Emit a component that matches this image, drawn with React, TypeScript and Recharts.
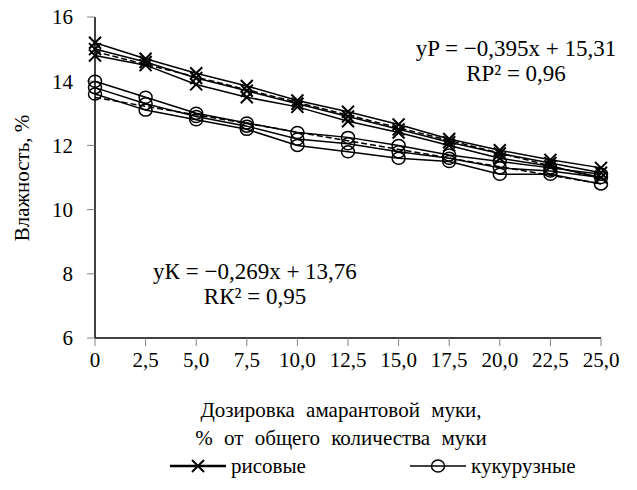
import { Legend, Line, LineChart, XAxis, YAxis } from "recharts";

const categories = ["0", "2,5", "5,0", "7,5", "10,0", "12,5", "15,0", "17,5", "20,0", "22,5", "25,0"];

// рисовые — три повторности
const rice1 = [15.2, 14.7, 14.25, 13.85, 13.4, 13.05, 12.65, 12.2, 11.85, 11.55, 11.3];
const rice2 = [15.0, 14.6, 14.1, 13.7, 13.3, 12.9, 12.5, 12.1, 11.75, 11.45, 11.15];
const rice3 = [14.8, 14.5, 13.9, 13.5, 13.2, 12.75, 12.4, 12.0, 11.6, 11.35, 11.0];

// кукурузные — три повторности
const corn1 = [14.0, 13.5, 13.0, 12.7, 12.4, 12.25, 12.0, 11.7, 11.5, 11.3, 11.1];
const corn2 = [13.8, 13.3, 12.9, 12.6, 12.2, 12.05, 11.8, 11.6, 11.3, 11.2, 11.0];
const corn3 = [13.6, 13.1, 12.8, 12.5, 12.0, 11.8, 11.6, 11.5, 11.1, 11.1, 10.8];

// линии тренда: только концы
const riceTrend = [14.92, null, null, null, null, null, null, null, null, null, 10.97];
const cornTrend = [13.49, null, null, null, null, null, null, null, null, null, 10.8];

const yTicks = [6, 8, 10, 12, 14, 16];

const data = categories.map((c, i) => ({
  x: c,
  r1: rice1[i],
  r2: rice2[i],
  r3: rice3[i],
  k1: corn1[i],
  k2: corn2[i],
  k3: corn3[i],
  rt: riceTrend[i],
  kt: cornTrend[i],
}));

const FONT = "Liberation Serif";
const FS = 21;

function CrossDot(props: any) {
  const { cx, cy, index } = props;
  if (cx == null || cy == null) return <g key={index} />;
  const s = 6;
  return (
    <path
      key={index}
      d={`M${cx - s},${cy - s}L${cx + s},${cy + s}M${cx - s},${cy + s}L${cx + s},${cy - s}`}
      stroke="#000"
      strokeWidth={2}
      fill="none"
    />
  );
}

function CircleDot(props: any) {
  const { cx, cy, index } = props;
  if (cx == null || cy == null) return <g key={index} />;
  return <ellipse key={index} cx={cx} cy={cy} rx={6.5} ry={6} stroke="#000" strokeWidth={1.5} fill="none" />;
}

function LegendBox() {
  return (
    <svg width={637} height={30} style={{ display: "block" }}>
      <line x1={170} y1={15} x2={226} y2={15} stroke="#000" strokeWidth={2.5} />
      <CrossDot cx={198} cy={15} index={0} />
      <text x={231} y={22} fontFamily={FONT} fontSize={FS}>
        рисовые
      </text>
      <line x1={410} y1={15} x2={466} y2={15} stroke="#000" strokeWidth={1.5} />
      <CircleDot cx={438} cy={15} index={1} />
      <text x={471} y={22} fontFamily={FONT} fontSize={FS}>
        кукурузные
      </text>
    </svg>
  );
}

const lineProps = {
  type: "linear" as const,
  stroke: "#000",
  strokeWidth: 1.5,
  isAnimationActive: false,
  legendType: "none" as const,
};

export default function App() {
  return (
    <div style={{ position: "absolute", left: 0, top: 0, width: 637, height: 490, background: "#fff" }}>
      <LineChart width={637} height={490} data={data} margin={{ top: 17, right: 36, bottom: 122, left: 0 }}>
        <XAxis
          dataKey="x"
          height={30}
          tickSize={8}
          tickMargin={6}
          axisLine={{ stroke: "#000", strokeWidth: 1.5 }}
          tickLine={{ stroke: "#808080" }}
          tick={{ fill: "#000", fontFamily: FONT, fontSize: FS }}
          interval={0}
        />
        <YAxis
          domain={[6, 16]}
          ticks={yTicks}
          width={95}
          tickSize={8}
          tickMargin={14}
          axisLine={{ stroke: "#000", strokeWidth: 1.5 }}
          tickLine={{ stroke: "#808080" }}
          tick={{ fill: "#000", fontFamily: FONT, fontSize: FS }}
          allowDataOverflow
        />
        <Line {...lineProps} dataKey="rt" strokeDasharray="6 3" dot={false} connectNulls />
        <Line {...lineProps} dataKey="kt" strokeDasharray="6 3" dot={false} connectNulls />
        <Line {...lineProps} dataKey="r1" dot={CrossDot} />
        <Line {...lineProps} dataKey="r2" dot={CrossDot} />
        <Line {...lineProps} dataKey="r3" dot={CrossDot} />
        <Line {...lineProps} dataKey="k1" dot={CircleDot} />
        <Line {...lineProps} dataKey="k2" dot={CircleDot} />
        <Line {...lineProps} dataKey="k3" dot={CircleDot} />
        <Legend
          layout="horizontal"
          verticalAlign="middle"
          align="center"
          content={() => <LegendBox />}
          wrapperStyle={{ top: 451, left: 0, width: 637, height: 30 }}
        />
      </LineChart>
      <svg
        width={637}
        height={490}
        style={{ position: "absolute", left: 0, top: 0, pointerEvents: "none" }}
        fontFamily={FONT}
        fontSize={FS}
      >
        <text x={22} y={178} textAnchor="middle" dominantBaseline="central" transform="rotate(-90 22 178)">
          Влажность,  %
        </text>
        <text x={341} y={417} textAnchor="middle" wordSpacing={6}>
          Дозировка амарантовой муки,
        </text>
        <text x={341} y={445} textAnchor="middle" wordSpacing={6}>
          % от общего количества муки
        </text>
        <text x={516} y={56} textAnchor="middle" fontSize={23}>
          yP = −0,395x + 15,31
        </text>
        <text x={516} y={81} textAnchor="middle" fontSize={23}>
          RP² = 0,96
        </text>
        <text x={255} y={279} textAnchor="middle" fontSize={23}>
          yК = −0,269x + 13,76
        </text>
        <text x={255} y={304} textAnchor="middle" fontSize={23}>
          RК² = 0,95
        </text>
      </svg>
    </div>
  );
}
